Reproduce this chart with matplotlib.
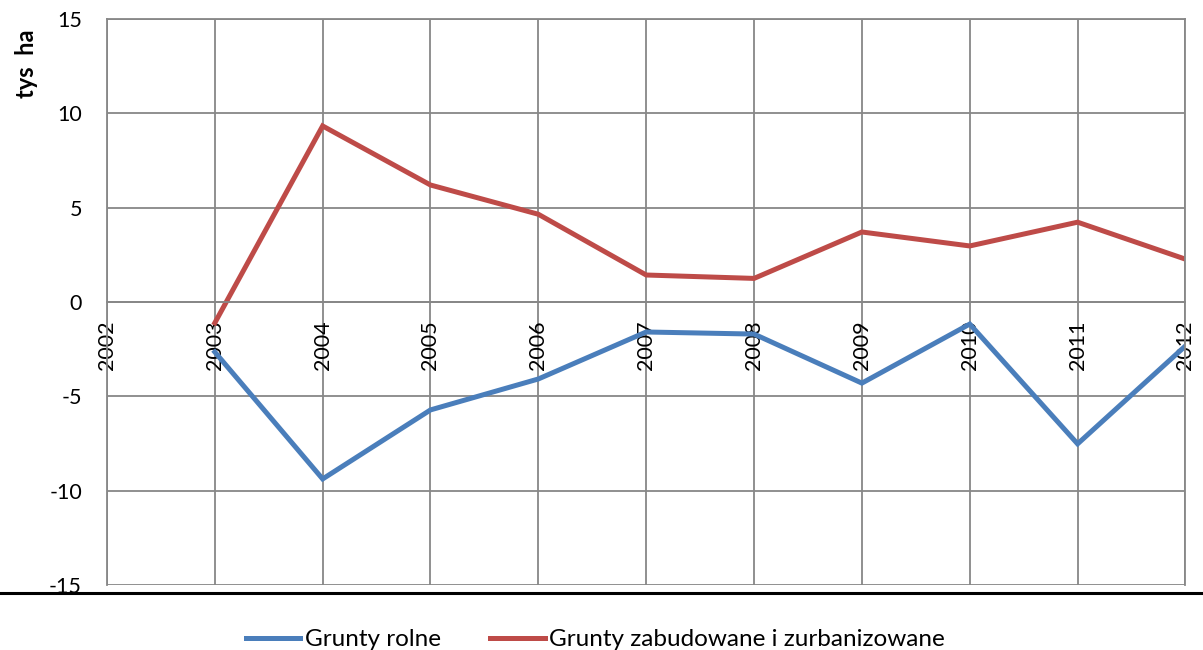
import matplotlib.pyplot as plt
from matplotlib.lines import Line2D

# dane
years = ['2002', '2003', '2004', '2005', '2006', '2007', '2008', '2009', '2010', '2011', '2012']
rolne = [-2.65, -9.38, -5.72, -4.08, -1.59, -1.70, -4.30, -1.17, -7.52, -2.33]
zabudowane = [-1.11, 9.33, 6.2, 4.65, 1.43, 1.25, 3.71, 2.97, 4.23, 2.27]
yticks = [-15, -10, -5, 0, 5, 10, 15]

blue = '#4A7EBB'
red = '#BE4B48'
grid_c = '#878787'
fs = 15.5

plt.rcParams['font.family'] = ['Lato', 'DejaVu Sans']

fig = plt.figure(figsize=(12.03, 6.5), dpi=100)
ax = fig.add_axes([0.0889, 0.1, 0.8965, 0.8708])

# spine przesuniety najpierw, bo resetuje ustawienia tickow
for s in ['left', 'right', 'top', 'bottom']:
    ax.spines[s].set_color(grid_c)
    ax.spines[s].set_linewidth(1.3)
ax.spines['bottom'].set_position(('data', 0))

xpos = list(range(len(years)))
ax.plot(xpos[1:], rolne, color=blue, lw=3.6, solid_joinstyle='miter', label='Grunty rolne')
ax.plot(xpos[1:], zabudowane, color=red, lw=3.6, solid_joinstyle='miter',
        label='Grunty zabudowane i zurbanizowane')

ax.set_xlim(0, len(years) - 1)
ax.set_ylim(-15, 15)
ax.set_yticks(yticks)
ax.set_yticklabels([str(v) for v in yticks], fontsize=fs)
ax.set_xticks(xpos)
ax.set_xticklabels(years, rotation=90, fontsize=fs, va='top', ha='center')
ax.tick_params(axis='both', length=0)
ax.tick_params(axis='y', pad=18)
ax.tick_params(axis='x', pad=13)

ax.grid(True, color=grid_c, lw=1.3)
ax.set_axisbelow(True)

fig.text(0.022, 0.902, 'tys  ha', rotation=90, ha='center', va='center',
         fontsize=17, fontweight='bold')

fig.add_artist(Line2D([0, 1], [0.0877, 0.0877], transform=fig.transFigure,
                      color='black', lw=2.2))

fig.legend(loc='center', bbox_to_anchor=(0.495, 0.016), ncol=2, frameon=False,
           fontsize=17.5, handlelength=2.25, handletextpad=0.2, columnspacing=2.0)

fig.savefig('out.png', dpi=100)
